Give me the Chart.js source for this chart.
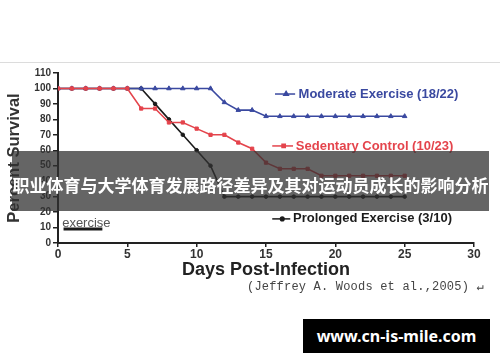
<!DOCTYPE html>
<html>
<head>
<meta charset="utf-8">
<script src="https://cdn.jsdelivr.net/npm/chart.js@4.4.0/dist/chart.umd.min.js"></script>
<style>
  html, body { margin: 0; padding: 0; background: #fff; }
  #wrap { position: relative; width: 500px; height: 362px; overflow: hidden; }
  #topline { position: absolute; left: 0; top: 62px; width: 500px; height: 1px; background: #dcdcdc; }
  #cite { position: absolute; left: 247px; top: 279px; font: 12px 'Liberation Mono', monospace; letter-spacing: 0.2px; color: #444; white-space: pre; }
  #banner { position: absolute; left: 12px; top: 151px; width: 477px; height: 60px; background: rgba(50,50,50,0.75);
    color: #fff; font: bold 17px 'Noto Sans CJK SC', sans-serif; text-align: center; line-height: 60px; white-space: nowrap; overflow: hidden; }
  #banner span { position: relative; top: 4px; }
  #mark { position: absolute; left: 303px; top: 319px; width: 187px; height: 34px; background: #000;
    color: #fff; font: bold 16px 'Noto Sans', sans-serif; text-align: center; line-height: 34px; }
</style>
</head>
<body>
<div id="wrap">
  <canvas id="chart"></canvas>
  <div id="topline"></div>
  <div id="cite">(Jeffrey A. Woods et al.,2005) ↵</div>
  <div id="banner"><span>职业体育与大学体育发展路径差异及其对运动员成长的影响分析</span></div>
  <div id="mark">www.cn-is-mile.com</div>
</div>
<script>
'use strict';

// days post-infection and percent survival per group
var days = [0, 1, 2, 3, 4, 5, 6, 7, 8, 9, 10, 11, 12, 13, 14, 15, 16, 17, 18, 19, 20, 21, 22, 23, 24, 25];
var moderate = [100, 100, 100, 100, 100, 100, 100, 100, 100, 100, 100, 100, 91, 86, 86, 82, 82, 82, 82, 82, 82, 82, 82, 82, 82, 82];
var sedentary = [100, 100, 100, 100, 100, 100, 87, 87, 78, 78, 74, 70, 70, 65, 61, 52, 48, 48, 48, 43.5, 43.5, 43.5, 43.5, 43.5, 43.5, 43.5];
var prolonged = [100, 100, 100, 100, 100, 100, 100, 90, 80, 70, 60, 50, 30, 30, 30, 30, 30, 30, 30, 30, 30, 30, 30, 30, 30, 30];

// exercise period bar
var exerciseDays = [0.4, 3.2];
var exerciseLevel = [9, 9];

var xTickValues = [0, 5, 10, 15, 20, 25, 30];
var yTickValues = [0, 10, 20, 30, 40, 50, 60, 70, 80, 90, 100, 110];

var seriesNames = ['Moderate Exercise (18/22)', 'Sedentary Control (10/23)', 'Prolonged Exercise (3/10)'];

var BLUE = '#3a49a0';
var RED = '#e4444c';
var BLACK = '#1b1b1b';
var FONT = '"Liberation Sans", Arial, sans-serif';

function toPoints(xs, ys) {
  return xs.map(function(x, i) { return { x: x, y: ys[i] }; });
}

// labels drawn inside the plot, anchored in data units
var inlineLegend = {
  id: 'inlineLegend',
  afterDatasetsDraw: function(chart) {
    var ctx = chart.ctx;
    var sx = chart.scales.x, sy = chart.scales.y;
    var items = [
      { text: seriesNames[0], color: BLUE, style: 'triangle', r: 2.6, x0: 15.65, x1: 17.1, tx: 17.35, y: 96.4 },
      { text: seriesNames[1], color: RED, style: 'rect', r: 2.3, x0: 15.45, x1: 16.95, tx: 17.15, y: 62.8 },
      { text: seriesNames[2], color: BLACK, style: 'circle', r: 1.8, x0: 15.45, x1: 16.75, tx: 16.95, y: 15.6 }
    ];
    ctx.save();
    items.forEach(function(it) {
      var y = sy.getPixelForValue(it.y);
      var a = sx.getPixelForValue(it.x0), b = sx.getPixelForValue(it.x1);
      ctx.strokeStyle = it.color;
      ctx.fillStyle = it.color;
      ctx.lineWidth = 1.5;
      ctx.beginPath();
      ctx.moveTo(a, y);
      ctx.lineTo(b, y);
      ctx.stroke();
      Chart.helpers.drawPoint(ctx, {
        pointStyle: it.style, radius: it.r, borderWidth: 1, rotation: 0
      }, (a + b) / 2 + 1, y);
      ctx.fillStyle = it.color;
      ctx.font = 'bold 13px ' + FONT;
      ctx.textBaseline = 'middle';
      ctx.textAlign = 'left';
      ctx.fillText(it.text, sx.getPixelForValue(it.tx), y);
    });
    ctx.fillStyle = '#555';
    ctx.font = '13px ' + FONT;
    ctx.textBaseline = 'middle';
    ctx.fillText('exercise', sx.getPixelForValue(0.3), sy.getPixelForValue(12.6));
    ctx.restore();
  }
};

var lineDefaults = {
  borderWidth: 1.6,
  pointBorderWidth: 1,
  tension: 0,
  fill: false
};

function series(label, data, color, style, radius) {
  return Object.assign({
    label: label,
    data: data,
    borderColor: color,
    backgroundColor: color,
    pointBackgroundColor: color,
    pointBorderColor: color,
    pointStyle: style,
    pointRadius: radius
  }, lineDefaults);
}

new Chart(document.getElementById('chart'), {
  type: 'line',
  data: {
    datasets: [
      series(seriesNames[1], toPoints(days, sedentary), RED, 'rect', 2.3),
      series(seriesNames[0], toPoints(days, moderate), BLUE, 'triangle', 2.6),
      series(seriesNames[2], toPoints(days, prolonged), BLACK, 'circle', 1.8),
      {
        label: 'exercise',
        data: toPoints(exerciseDays, exerciseLevel),
        borderColor: BLACK,
        borderWidth: 3,
        pointRadius: 0,
        fill: false
      }
    ]
  },
  options: {
    responsive: true,
    maintainAspectRatio: false,
    animation: false,
    layout: { padding: { top: 73, right: 26, bottom: 81, left: 0 } },
    plugins: {
      legend: { display: false },
      tooltip: { enabled: false }
    },
    scales: {
      x: {
        type: 'linear',
        min: 0,
        max: 30,
        afterBuildTicks: function(scale) {
          scale.ticks = xTickValues.map(function(v) { return { value: v }; });
        },
        afterFit: function(scale) { scale.height = 38; },
        grid: { drawOnChartArea: false, drawTicks: true, tickLength: 4, color: '#222', lineWidth: 1.5 },
        border: { color: '#222', width: 2 },
        ticks: { font: { family: FONT, size: 12, weight: 'bold' }, color: '#333', padding: 0, maxRotation: 0 },
        title: {
          display: true,
          text: 'Days Post-Infection',
          font: { family: FONT, size: 18, weight: 'bold' },
          color: '#222',
          padding: 0
        }
      },
      y: {
        min: 0,
        max: 110,
        afterBuildTicks: function(scale) {
          scale.ticks = yTickValues.map(function(v) { return { value: v }; });
        },
        afterFit: function(scale) { scale.width = 58; },
        grid: { drawOnChartArea: false, drawTicks: true, tickLength: 5, color: '#222', lineWidth: 1.5 },
        border: { color: '#222', width: 2 },
        ticks: { font: { family: FONT, size: 10, weight: 'bold' }, color: '#333', padding: 2 },
        title: {
          display: true,
          text: 'Percent Survival',
          font: { family: FONT, size: 16.5, weight: 'bold' },
          color: '#333',
          padding: { top: 5, bottom: 0 }
        }
      }
    }
  },
  plugins: [inlineLegend]
});
</script>
</body>
</html>
